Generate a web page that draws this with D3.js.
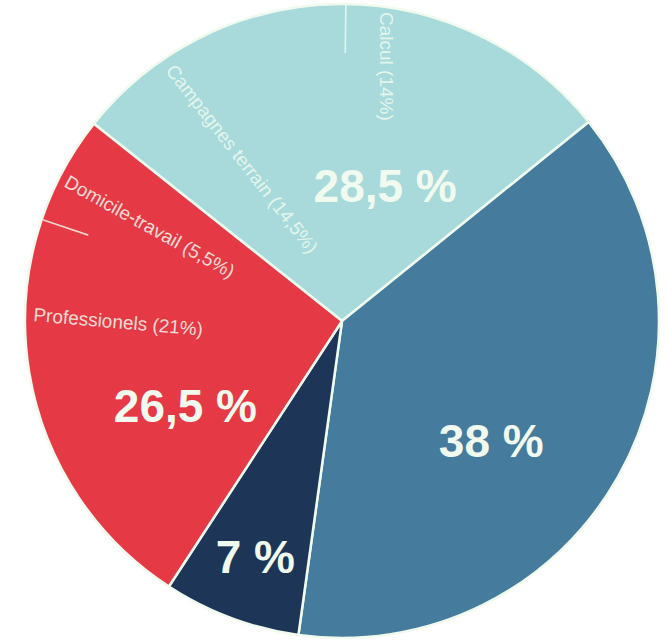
<!DOCTYPE html>
<html>
<head>
<meta charset="utf-8">
<script src="https://cdn.jsdelivr.net/npm/d3@7"></script>
<style>
  html, body { margin: 0; padding: 0; background: #ffffff; }
  svg { display: block; }
</style>
</head>
<body>
<svg id="chart" width="666" height="640"></svg>
<script>
// ---- data ----
const mainCategories = ["Déplacements scientifiques", "Bâtiments", "Achats", "Déplacements"];
const mainValues = [28.5, 38, 7, 26.5];
const mainLabels = ["28,5 %", "38 %", "7 %", "26,5 %"];
const subCategories = ["Campagnes terrain (14,5%)", "Calcul (14%)", "Professionels (21%)", "Domicile-travail (5,5%)"];
const subValues = [14.5, 14, 21, 5.5];
const subParent = [0, 0, 3, 3];

// ---- styles / layout ----
const colors = ["#a8dadc", "#457b9d", "#1d3557", "#e63946"];
const textColor = "#f1faee";
const W = 666, H = 640;
const cx = 342, cy = 321, R = 317;
const startDeg = -51.5;
const mainLabelLayout = [ {shift: 17.9, r: 142}, {shift: 9.1, r: 191}, {shift: -0.3, r: 251}, {shift: -19.2, r: 178} ];
const subLabelLayout = [
  {x: 165, y: 71, rot: 52},
  {x: 380, y: 12, rot: 90},
  {x: 33, y: 321, rot: 5},
  {x: 63, y: 186, rot: 29}
];

const rad = d => d * Math.PI / 180;
const svg = d3.select("#chart");
const g = svg.append("g").attr("transform", `translate(${cx},${cy})`);

const pie = d3.pie().sort(null).value(d => d)
  .startAngle(rad(startDeg)).endAngle(rad(startDeg) + 2 * Math.PI);
const arc = d3.arc().innerRadius(0).outerRadius(R);

const mainArcs = pie(mainValues);

g.selectAll("path.slice")
  .data(mainArcs)
  .join("path")
  .attr("class", "slice")
  .attr("d", arc)
  .attr("fill", (d, i) => colors[i])
  .attr("stroke", textColor)
  .attr("stroke-width", 2.5)
  .attr("stroke-linejoin", "round");

// fine-grained sequence: parents with sub-parts expanded
const fine = [];
mainValues.forEach((v, i) => {
  const subs = subValues.map((sv, j) => ({sv, j})).filter(o => subParent[o.j] === i);
  if (subs.length) subs.forEach(o => fine.push({value: o.sv, parent: i, sub: o.j}));
  else fine.push({value: v, parent: i, sub: -1});
});
const fineArcs = pie.value(d => d.value)(fine);

// sub-divider ticks at outer edge
const dividers = [];
for (let k = 0; k < fineArcs.length - 1; k++) {
  const a = fineArcs[k], b = fineArcs[k + 1];
  if (a.data.parent === b.data.parent) dividers.push(a.endAngle);
}
g.selectAll("line.div")
  .data(dividers)
  .join("line")
  .attr("class", "div")
  .attr("x1", a => Math.sin(a) * R * 0.845)
  .attr("y1", a => -Math.cos(a) * R * 0.845)
  .attr("x2", a => Math.sin(a) * (R - 1))
  .attr("y2", a => -Math.cos(a) * (R - 1))
  .attr("stroke", textColor)
  .attr("stroke-width", 1.6)
  .attr("stroke-opacity", 0.8);

// main percentage labels
g.selectAll("text.main")
  .data(mainArcs)
  .join("text")
  .attr("class", "main")
  .attr("transform", (d, i) => {
    const a = (d.startAngle + d.endAngle) / 2 + rad(mainLabelLayout[i].shift);
    const r = mainLabelLayout[i].r;
    return `translate(${Math.sin(a) * r},${-Math.cos(a) * r})`;
  })
  .attr("text-anchor", "middle")
  .attr("dy", "0.36em")
  .attr("fill", textColor)
  .style("font-family", "'Liberation Sans', Arial, sans-serif")
  .style("font-weight", "bold")
  .style("font-size", "46px")
  .text((d, i) => mainLabels[i]);

// sub-category labels
svg.selectAll("text.sub")
  .data(subCategories)
  .join("text")
  .attr("class", "sub")
  .attr("transform", (d, i) => `translate(${subLabelLayout[i].x},${subLabelLayout[i].y}) rotate(${subLabelLayout[i].rot})`)
  .attr("fill", textColor)
  .attr("fill-opacity", 0.85)
  .style("font-family", "'Liberation Sans', Arial, sans-serif")
  .style("font-size", "19px")
  .text(d => d);
</script>
</body>
</html>
